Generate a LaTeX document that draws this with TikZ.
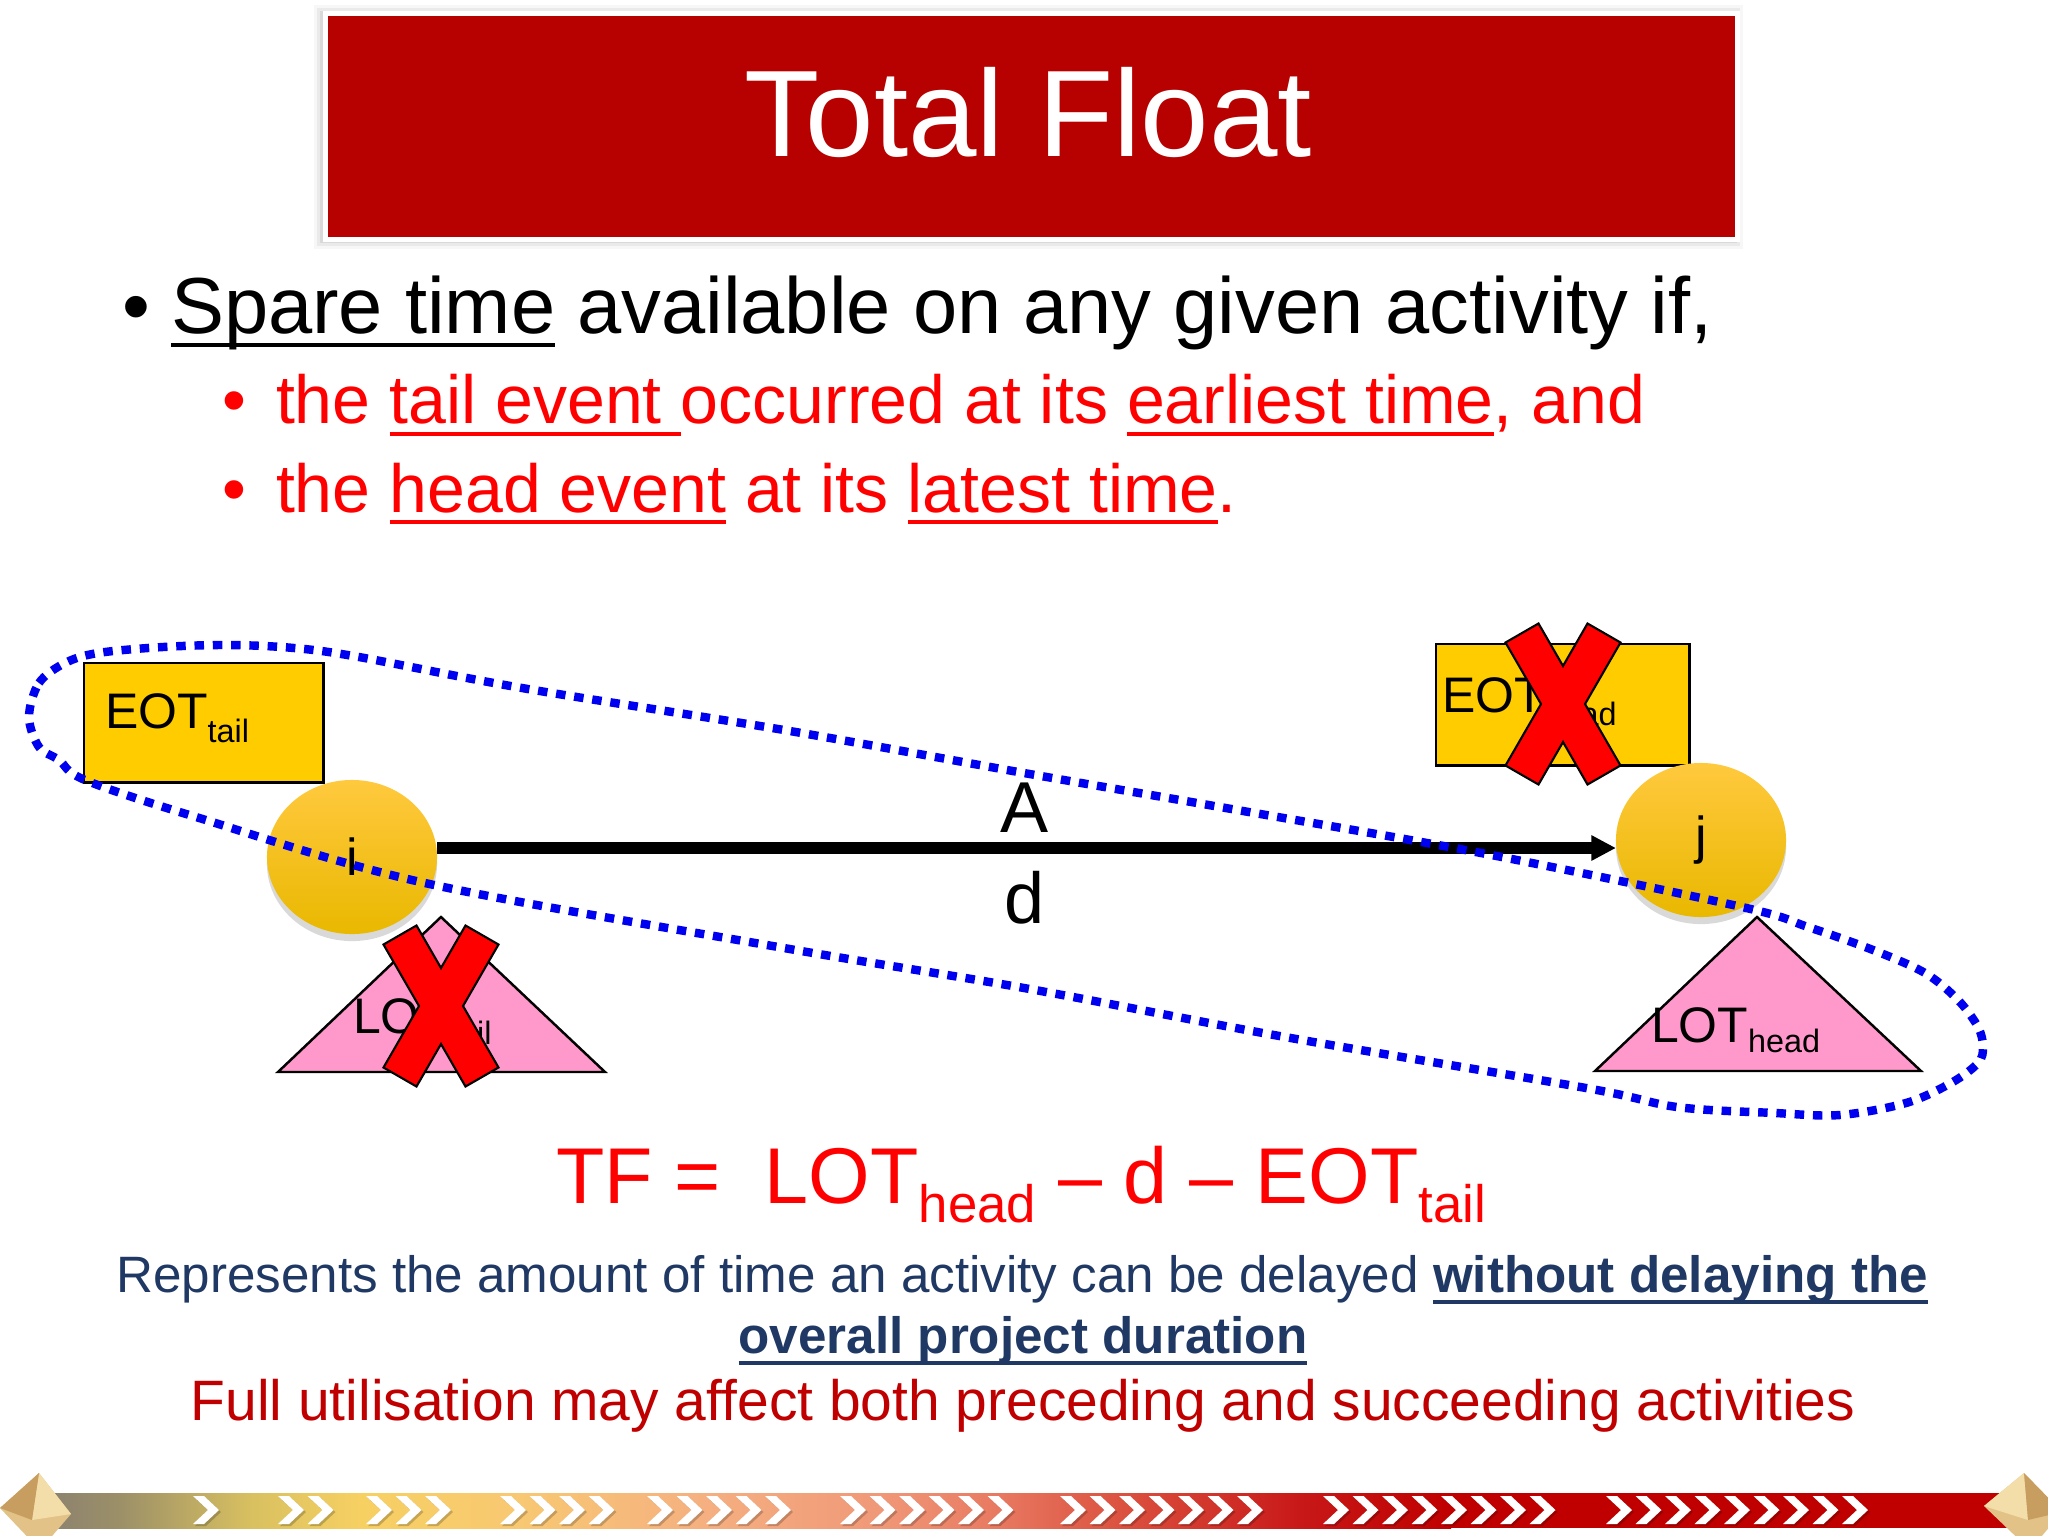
\documentclass[tikz,border=0pt]{standalone}
\usepackage{fontspec}
\setmainfont{Liberation Sans}
\usetikzlibrary{shapes.geometric,arrows.meta,calc,shadows}
\definecolor{titlered}{HTML}{B70000}
\definecolor{evyellow}{HTML}{FFCC00}
\definecolor{evtop}{HTML}{FFC93E}
\definecolor{evbot}{HTML}{E9B800}
\definecolor{pinktri}{HTML}{FF99CC}
\definecolor{navy}{HTML}{1F3864}
\definecolor{darkred}{HTML}{C00000}
\definecolor{dotblue}{HTML}{0000F0}
\definecolor{redtxt}{HTML}{FF0000}
\definecolor{bcA}{HTML}{8A8070}
\definecolor{bcB}{HTML}{9C9068}
\definecolor{bcC}{HTML}{D8C060}
\definecolor{bcD}{HTML}{F7D062}
\definecolor{bcE}{HTML}{F8C872}
\definecolor{bcF}{HTML}{F5B080}
\definecolor{bcG}{HTML}{F09878}
\definecolor{bcH}{HTML}{E87860}
\definecolor{bcI}{HTML}{D84838}
\definecolor{bcJ}{HTML}{C81818}
\definecolor{bcK}{HTML}{C00000}
\definecolor{gemA}{HTML}{E2C286}
\definecolor{gemB}{HTML}{F3DEAA}
\definecolor{gemC}{HTML}{C89E60}
\newcommand\fsz[1]{\fontsize{#1}{#1}\selectfont}
\newsavebox\ulbox
\newcommand\ulx[3]{\sbox\ulbox{#3}\rlap{\rule[-#2]{\wd\ulbox}{#1}}\usebox\ulbox}
\begin{document}
\begin{tikzpicture}[x=0.01cm,y=-0.01cm,
  txt/.style={inner sep=0pt, outer sep=0pt},
  evbox/.style={draw=black, line width=0.7pt, fill=evyellow, inner sep=0pt, anchor=north west},
  evtri/.style={draw=black, line width=0.7pt, fill=pinktri, line join=miter},
  evnode/.style={ellipse, inner sep=0pt, outer sep=0pt, minimum width=1.70cm, minimum height=1.54cm,
     top color=evtop, bottom color=evbot, draw=none,
     drop shadow={shadow xshift=0pt, shadow yshift=-2pt, opacity=0.15, fill=black}},
  xmark/.style={fill=red, draw=black, line width=0.6pt, line join=miter},
  actarrow/.style={line width=3.4pt, -{Triangle[length=7pt,width=6.8pt]}},
  dotline/.style={dotblue, line width=2.4pt, dash pattern=on 2.7pt off 2.5pt},
  chev/.style={fill=white},
  redx/.pic={\path[xmark] (-57.5,-61.5) -- (-24.5,-80.5) -- (0,-38) -- (24.5,-80.5) -- (57.5,-61.5) -- (22,0)
      -- (57.5,61.5) -- (24.5,80.5) -- (0,38) -- (-24.5,80.5) -- (-57.5,61.5) -- (-22,0) -- cycle;}
]
\useasboundingbox (0,0) rectangle (2048,1536);
\fill[white] (0,0) rectangle (2048,1536);

% title
\foreach \d/\o in {9/0.03,6/0.05,3/0.07}
  \fill[black, opacity=\o] (323-\d,11-\d+3) rectangle (1734+\d,237+\d+3);
\node[draw=white, line width=1.5pt, fill=titlered, minimum width=14.11cm, minimum height=2.26cm,
      anchor=north west, inner sep=0pt] (titlebox) at (323,11) {};
\node[txt, anchor=base, text=white, font=\fsz{35pt}] (title) at (1028,156) {Total Float};

% bullets
\node[txt, anchor=base west, font=\fsz{22.6pt}] (b1) at (122,333) {•};
\node[txt, anchor=base west, font=\fsz{22.6pt}] (l1) at (171,333) {\ulx{1.1pt}{4pt}{Spare time} available on any given activity if,};
\node[txt, anchor=base west, text=redtxt, font=\fsz{19.35pt}] (b2) at (222,423) {•};
\node[txt, anchor=base west, text=redtxt, font=\fsz{19.35pt}] (l2) at (276,423) {the \ulx{1.1pt}{3.7pt}{tail event }occurred at its \ulx{1.1pt}{3.7pt}{earliest time}, and};
\node[txt, anchor=base west, text=redtxt, font=\fsz{19.35pt}] (b3) at (222,512) {•};
\node[txt, anchor=base west, text=redtxt, font=\fsz{19.35pt}] (l3) at (276,512) {the \ulx{1.1pt}{3.5pt}{head event} at its \ulx{1.1pt}{3.5pt}{latest time}.};

% event boxes
\node[evbox, minimum width=2.39cm, minimum height=1.19cm] (eotTbox) at (83,662) {};
\node[txt, anchor=base west, font=\fsz{14.2pt}] (eotT) at (105,728) {EOT\raisebox{-4pt}{\fsz{9.2pt}tail}};
\node[evbox, minimum width=2.53cm, minimum height=1.21cm] (eotHbox) at (1435,643) {};
\node[txt, anchor=base west, font=\fsz{14.2pt}] (eotH) at (1442,712) {EOT\raisebox{-3.7pt}{\fsz{9.2pt}head}};

% triangles
\coordinate (tlA) at (441,917);
\coordinate (thA) at (1757,917);
\path[evtri] (278,1072) -- (605,1072) -- (tlA) -- cycle;
\node[txt, anchor=base west, font=\fsz{14.2pt}] (lotT) at (353,1033) {LOT\raisebox{-3.4pt}{\fsz{9.2pt}tail}};
\path[evtri] (1595,1071) -- (1921,1071) -- (thA) -- cycle;
\node[txt, anchor=base west, font=\fsz{14.2pt}] (lotH) at (1651,1042) {LOT\raisebox{-3.1pt}{\fsz{9.2pt}head}};

% events
\node[evnode, font=\fsz{14.8pt}] (i) at (352,857) {i};
\node[evnode, font=\fsz{14.8pt}] (j) at (1701,840) {j};

% activity arrow
\coordinate (ay) at (0,848);
\draw[actarrow] (i.east |- ay) -- (j.west |- ay);
\node[txt, anchor=base, font=\fsz{20.5pt}] (alab) at (1025,832) {A};
\node[txt, anchor=base, font=\fsz{20.5pt}] (dlab) at (1025,923) {d};

% dotted outline
\draw[dotline] plot[smooth cycle, tension=0.55] coordinates {
 (29,717) (39,683) (65,663) (98,653) (163,647) (229,645) (294,648) (359,657) (522,688) (784,730)
 (1024,773) (1220,807) (1481,853) (1742,907) (1808,927) (1873,950) (1925,973) (1958,1000) (1978,1027)
 (1983,1047) (1978,1063) (1951,1083) (1906,1103) (1840,1115) (1775,1113) (1677,1107) (1586,1088)
 (1285,1037) (1024,988) (784,948) (425,883) (196,817) (85,780) (59,760) (39,747)};

% crosses
\pic at (1563,704) {redx};
\pic at (441,1006) {redx};

% formula and notes
\node[txt, anchor=base west, text=redtxt, font=\fsz{22.5pt}] (tf) at (556,1203)
  {TF = \ LOT\raisebox{-5.4pt}{\fsz{15pt}head} – d – EOT\raisebox{-5.4pt}{\fsz{15pt}tail}};
\node[txt, anchor=base, text=navy, font=\fsz{14.55pt}] (rep1) at (1022,1292)
  {Represents the amount of time an activity can be delayed {\bfseries\ulx{1pt}{3.4pt}{without delaying the}}};
\node[txt, anchor=base, text=navy, font=\fsz{14.55pt}] (rep2) at (1023,1353)
  {\bfseries\ulx{1pt}{3.4pt}{overall project duration}};
\node[txt, anchor=base, text=darkred, font=\fsz{16.2pt}] (full) at (1023,1420)
  {Full utilisation may affect both preceding and succeeding activities};

% bottom bar
\shade[left color=bcA, right color=bcB] (39,1493) rectangle (121,1528);
\shade[left color=bcB, right color=bcC] (120,1493) rectangle (251,1528);
\shade[left color=bcC, right color=bcD] (250,1493) rectangle (361,1528);
\shade[left color=bcD, right color=bcE] (360,1493) rectangle (521,1528);
\shade[left color=bcE, right color=bcF] (520,1493) rectangle (701,1528);
\shade[left color=bcF, right color=bcG] (700,1493) rectangle (881,1528);
\shade[left color=bcG, right color=bcH] (880,1493) rectangle (1001,1528);
\shade[left color=bcH, right color=bcI] (1000,1493) rectangle (1151,1528);
\shade[left color=bcI, right color=bcJ] (1150,1493) rectangle (1301,1528);
\shade[left color=bcJ, right color=bcK] (1300,1493) rectangle (1451,1528);
\fill[bcK] (1450,1493) rectangle (2012,1528);
\foreach \g/\s in {1/193,2/278,3/366,4/500,5/647,6/840,7/1060,8/1323,9/1606} {
  \foreach \k in {1,...,\g} {
    \fill[black, opacity=0.2, shift={(\s+\k*29.5-29.5+2,1512)}] (0,-14) -- (11,-14) -- (26,0) -- (11,14) -- (0,14) -- (15,0) -- cycle;
    \fill[chev, shift={(\s+\k*29.5-29.5,1510)}] (0,-14) -- (11,-14) -- (26,0) -- (11,14) -- (0,14) -- (15,0) -- cycle;
  }
}
% gems
\fill[gemA] (39,1473) -- (71,1514) -- (40,1550) -- (0,1508) -- cycle;
\fill[gemB] (39,1473) -- (71,1514) -- (32,1520) -- cycle;
\fill[gemC] (39,1473) -- (32,1520) -- (0,1508) -- cycle;
\fill[gemA] (2024,1473) -- (2062,1512) -- (2030,1550) -- (1984,1506) -- cycle;
\fill[gemB] (2024,1473) -- (2028,1520) -- (1984,1506) -- cycle;
\fill[gemC] (2024,1473) -- (2062,1512) -- (2028,1520) -- cycle;
\end{tikzpicture}
\end{document}
